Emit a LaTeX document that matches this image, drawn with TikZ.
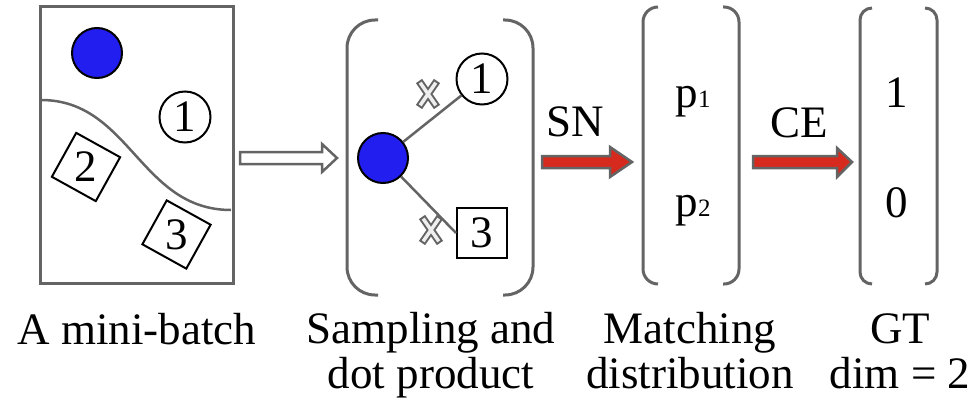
\documentclass[tikz,border=0pt]{standalone}
\usepackage{fontspec}
\setmainfont{Liberation Serif}
\usetikzlibrary{arrows.meta, positioning, shapes.geometric}
\definecolor{linegray}{RGB}{100,100,100}
\definecolor{dotblue}{RGB}{35,30,240}
\definecolor{arrowred}{RGB}{214,42,30}
\definecolor{crossfill}{RGB}{238,238,238}

\begin{document}
\begin{tikzpicture}[
  x=1pt, y=-1pt,
  font=\fontsize{45}{45}\selectfont,
  query/.style={circle, draw, line width=2pt, fill=dotblue, minimum size=50pt, inner sep=0pt},
  keycirc/.style={circle, draw, line width=2pt, minimum size=51pt, inner sep=0pt},
  keysq/.style={rectangle, draw, line width=2pt, minimum size=50pt, inner sep=0pt},
  tilted/.style={regular polygon, regular polygon sides=4, draw, line width=2pt,
    minimum size=71pt, inner sep=0pt, shape border rotate=-29},
  frame/.style={draw=linegray, line width=3pt},
  bracket/.style={draw=linegray, line width=3pt},
  link/.style={draw=linegray, line width=2.5pt},
  blockarrow/.style={draw=linegray, line width=2.5pt, line join=miter},
  caption/.style={align=center, anchor=base}
]
\useasboundingbox (0,0) rectangle (980,412);

\draw[frame] (40,7) rectangle (233,283);
\draw[draw=linegray, line width=2.5pt] (41,100) .. controls (130,100) and (140,210) .. (231,210);
\node[query] (q0) at (97,53) {};
\node[keycirc] (a1) at (185,117) {1};
\node[tilted] (a2) at (86,167) {2};
\node[tilted] (a3) at (176.5,234.5) {3};

\draw[blockarrow, fill=white] (240,152) -- (322,152) -- (322,144) -- (337,158)
  -- (322,172) -- (322,164) -- (240,164) -- cycle;

\draw[bracket, rounded corners=28pt] (378,20) -| (347,295) -- (378,295);
\draw[bracket, rounded corners=28pt] (503,20) -| (533,295) -- (503,295);
\node[query] (q) at (383,158) {};
\node[keycirc] (k1) at (482,79) {1};
\node[keysq] (k3) at (482,233) {3};
\draw[link] (q) -- (k1);
\draw[link] (q) -- (k3.west);
\foreach \cx/\cy in {428/94, 431/230} {
  \draw[draw=linegray, line width=7.5pt] (\cx-9,\cy-13) -- (\cx+9,\cy+13) (\cx+9,\cy-13) -- (\cx-9,\cy+13);
  \draw[draw=crossfill, line width=3.5pt] (\cx-7.8,\cy-11.3) -- (\cx+7.8,\cy+11.3) (\cx+7.8,\cy-11.3) -- (\cx-7.8,\cy+11.3);
}

\node[anchor=base] (sn) at (575,136) {SN};
\draw[blockarrow, fill=arrowred] (542,156) -- (610,156) -- (610,147) -- (632,162)
  -- (610,177) -- (610,168) -- (542,168) -- cycle;

\draw[bracket, rounded corners=15pt] (658,7) -| (643,284) -- (658,284);
\draw[bracket, rounded corners=15pt] (723,7) -| (739,284) -- (723,284);
\node[anchor=base] (p1) at (693,107) {p{\fontsize{25}{25}\selectfont 1}};
\node[anchor=base] (p2) at (693,216) {p{\fontsize{25}{25}\selectfont 2}};

\node[anchor=base] (ce) at (799,137) {CE};
\draw[blockarrow, fill=arrowred] (753,156) -- (837,156) -- (837,148) -- (852,162)
  -- (837,177) -- (837,168) -- (753,168) -- cycle;

\draw[bracket, rounded corners=12pt] (872,8) -| (860,284) -- (872,284);
\draw[bracket, rounded corners=12pt] (925,8) -| (937,284) -- (925,284);
\node[anchor=base] (g1) at (897,107) {1};
\node[anchor=base] (g0) at (897,217) {0};

\node[caption] (cap1) at (137,344) {A mini-batch};
\node[caption] (cap2) at (431,388) {Sampling and\\dot product};
\node[caption] (cap3) at (690,388) {Matching\\distribution};
\node[caption] (cap4) at (900,388) {GT\\dim = 2};
\end{tikzpicture}
\end{document}
